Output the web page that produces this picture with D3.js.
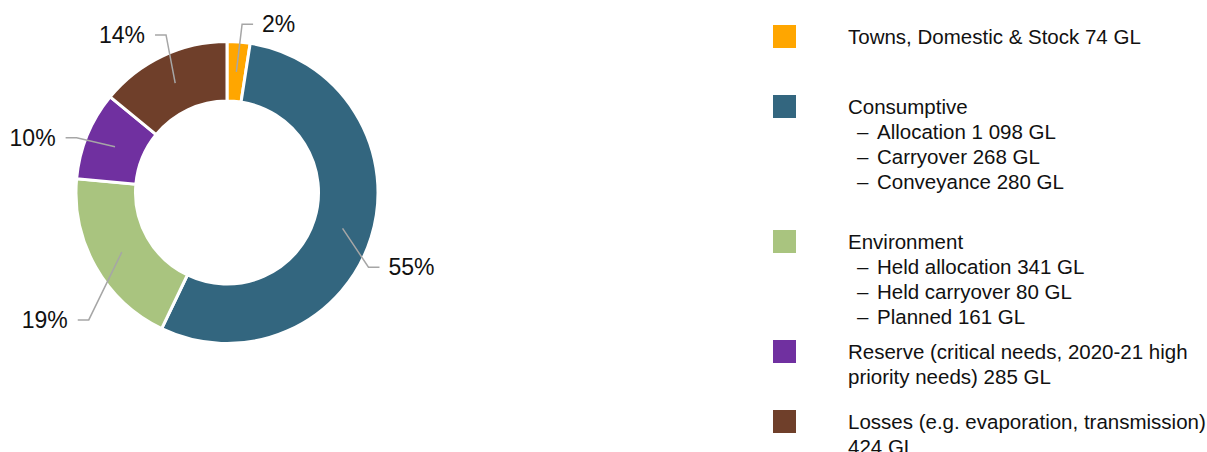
<!DOCTYPE html>
<html>
<head>
<meta charset="utf-8">
<script src="https://cdn.jsdelivr.net/npm/d3@7"></script>
<style>
  body { margin: 0; background: #fff; }
  svg { display: block; font-family: "Liberation Sans", Arial, sans-serif; }
</style>
</head>
<body>
<div id="chart"></div>
<script>
// Water shares (GL)
const categories = ["Towns, Domestic & Stock", "Consumptive", "Environment", "Reserve", "Losses"];
const volumes = [74, 1646, 582, 285, 424];
const pctLabels = ["2%", "55%", "19%", "10%", "14%"];
const colors = ["#FFA600", "#33667F", "#A9C47F", "#7030A0", "#6F3F2A"];

// Legend text, one array of lines per category
const legendLines = [
    ["Towns, Domestic & Stock 74 GL"],
    ["Consumptive", "– Allocation 1 098 GL", "– Carryover 268 GL", "– Conveyance 280 GL"],
    ["Environment", "– Held allocation 341 GL", "– Held carryover 80 GL", "– Planned 161 GL"],
    ["Reserve (critical needs, 2020-21 high", "priority needs) 285 GL"],
    ["Losses (e.g. evaporation, transmission)", "424 GL"]
];

const w = 1207;
const h = 452;
const cx = 227;
const cy = 192.5;
const outerR = 151;
const innerR = 91.5;

// label placement tweaks (degrees off the slice middle, elbow radius)
const labelShift = [0.7, 10.6, -13.1, -2.3, 4.2];
const labelRadius = [169, 160, 188, 160, 169];

const svg = d3.select("#chart")
    .append("svg")
    .attr("width", w)
    .attr("height", h)

const pie = d3.pie().sort(null).value(d => d)
const arcs = pie(volumes)

const arc = d3.arc().innerRadius(innerR).outerRadius(outerR)

const g = svg.append("g")
    .attr("transform", "translate(" + cx + "," + cy + ")")

g.selectAll("path.slice")
    .data(arcs)
    .enter()
    .append("path")
    .attr("class", "slice")
    .attr("d", arc)
    .attr("fill", (d, i) => colors[i])
    .attr("stroke", "#fff")
    .attr("stroke-width", 3)

// point at angle a (radians, clockwise from 12 o'clock) and radius r
const polar = (a, r) => [r * Math.sin(a), -r * Math.cos(a)];

arcs.forEach((d, i) => {
    const mid = (d.startAngle + d.endAngle) / 2;
    const start = polar(mid, 121);
    const elbow = polar(mid + labelShift[i] * Math.PI / 180, labelRadius[i]);
    const right = elbow[0] > 0;
    const stubEnd = [elbow[0] + (right ? 11 : -11), elbow[1]];

    g.append("polyline")
        .attr("points", [start, elbow, stubEnd].map(p => p.join(",")).join(" "))
        .attr("fill", "none")
        .attr("stroke", "#A6A6A6")
        .attr("stroke-width", 1.5)

    g.append("text")
        .attr("x", stubEnd[0] + (right ? 9 : -10))
        .attr("y", stubEnd[1] + 8)
        .attr("text-anchor", right ? "start" : "end")
        .attr("font-size", 23)
        .attr("fill", "#111")
        .text(pctLabels[i])
});

// Legend
const legendTop = [25, 95, 230, 340, 410];
const lineH = 25;

const legend = svg.append("g")

categories.forEach((c, i) => {
    legend.append("rect")
        .attr("x", 773)
        .attr("y", legendTop[i])
        .attr("width", 23)
        .attr("height", 23)
        .attr("fill", colors[i])

    legendLines[i].forEach((line, j) => {
        const y = legendTop[i] + 19 + j * lineH;
        if (line.startsWith("– ")) {
            legend.append("text")
                .attr("x", 857)
                .attr("y", y)
                .attr("font-size", 20.5)
                .attr("fill", "#111")
                .text("–")
            legend.append("text")
                .attr("x", 877)
                .attr("y", y)
                .attr("font-size", 20.5)
                .attr("fill", "#111")
                .text(line.slice(2))
        } else {
            legend.append("text")
                .attr("x", 848)
                .attr("y", y)
                .attr("font-size", 20.5)
                .attr("fill", "#111")
                .text(line)
        }
    });
});
</script>
</body>
</html>
